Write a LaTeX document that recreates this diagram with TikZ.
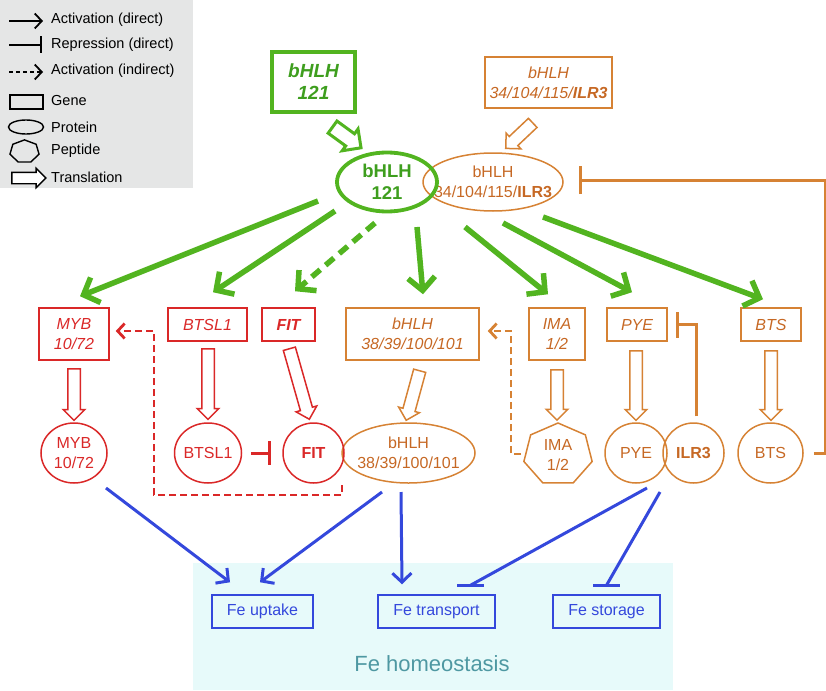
\documentclass[tikz,border=0pt]{standalone}
\usepackage{fontspec}
\setmainfont{Liberation Sans}
\usetikzlibrary{arrows.meta,shapes.geometric,shapes.arrows,calc}
\definecolor{cgreen}{RGB}{82,180,32}
\definecolor{cgreentext}{RGB}{62,158,30}
\definecolor{corange}{RGB}{214,130,52}
\definecolor{corangetext}{RGB}{198,104,36}
\definecolor{cred}{RGB}{218,40,40}
\definecolor{cblue}{RGB}{52,72,220}
\definecolor{cteal}{RGB}{78,152,162}
\definecolor{ccyan}{RGB}{231,250,250}
\definecolor{cgray}{RGB}{229,230,230}
\newcommand\blockarr[4]{\path let \p1=#2, \p2=#3, \n1={atan2((\y2)-(\y1),(\x2)-(\x1))}, \n2={veclen((\x2)-(\x1),(\y2)-(\y1))} in node[transarrow,#1,minimum height=\n2,rotate=\n1] (#4) at ($(\p1)!0.5!(\p2)$) {};}
\begin{document}
\begin{tikzpicture}[x=1pt,y=-1pt,
  gene/.style={draw, rectangle, inner sep=0pt, align=center, font=\fontsize{16}{20}\selectfont\itshape, line width=1.5pt},
  prot/.style={draw, ellipse, inner xsep=-15pt, inner ysep=-6pt, align=center, font=\fontsize{16}{20}\selectfont, line width=1.5pt},
  transarrow/.style={single arrow, draw, fill=white, inner xsep=0pt, inner ysep=5.5pt, single arrow head extend=4.5pt, line width=1.5pt},
  act/.style={line width=5.5pt, cgreen, -{Straight Barb[length=13pt,width=27pt]}},
  bact/.style={line width=3pt, cblue, -{Straight Barb[length=9pt,width=19pt]}},
  brep/.style={line width=3pt, cblue},
  dashact/.style={line width=2.8pt, dash pattern=on 7pt off 4pt, -{Straight Barb[length=7pt,width=15pt]}},
  legtext/.style={anchor=west, inner sep=0pt, font=\fontsize{14.5}{16}\selectfont},
  febox/.style={draw=cblue, line width=1.5pt, text=cblue, minimum height=33, inner sep=0pt, font=\fontsize{16}{20}\selectfont}
]
\useasboundingbox (0,0) rectangle (826,690);
% ---------- legend ----------
\fill[cgray] (0,0) rectangle (193,188);
\coordinate (l1a) at (9,21); \coordinate (l1b) at (43,21);
\draw[line width=1.8pt, -{Straight Barb[length=7pt,width=15pt]}] (l1a) -- (l1b);
\node[legtext] (lt1) at (51,20) {Activation (direct)};
\coordinate (l2a) at (9,45); \coordinate (l2b) at (42,45);
\draw[line width=1.8pt, -{Bar[width=17pt]}] (l2a) -- (l2b);
\node[legtext] (lt2) at (51,45) {Repression (direct)};
\coordinate (l3a) at (9,72); \coordinate (l3b) at (43,72);
\draw[line width=1.8pt, dash pattern=on 4pt off 3pt, -{Straight Barb[length=7pt,width=15pt]}] (l3a) -- (l3b);
\node[legtext] (lt3) at (51,71) {Activation (indirect)};
\node[draw, line width=1.4pt, minimum width=33, minimum height=14, inner sep=0pt] (lgene) at (26.5,102) {};
\node[legtext] (lt4) at (51,101) {Gene};
\node[draw, ellipse, line width=1.4pt, minimum width=35, minimum height=14, inner sep=0pt] (lprot) at (26,127) {};
\node[legtext] (lt5) at (51,127) {Protein};
\draw[line width=1.4pt] plot[samples at={0,1,2,3,4,5,6},variable=\k] ({24.5+14.9*cos(-90+\k*360/7)},{151.5+11.6*sin(-90+\k*360/7)}) -- cycle;
\node[legtext] (lt6) at (51,151) {Peptide};
\coordinate (l7a) at (9,178); \coordinate (l7b) at (43,178);
\blockarr{line width=1.4pt, inner ysep=5pt, single arrow head extend=4pt}{(l7a)}{(l7b)}{ltrans}
\node[legtext] (lt7) at (51,177) {Translation};
% ---------- Fe homeostasis ----------
\fill[ccyan] (193,563) rectangle (673,690);
\node[text=cteal, font=\fontsize{22}{24}\selectfont] (feh) at (432,664) {Fe homeostasis};
\node[febox, minimum width=101] (fUp) at (262.5,611.5) {Fe uptake};
\node[febox, minimum width=117] (fTr) at (436.5,611.5) {Fe transport};
\node[febox, minimum width=107] (fSt) at (606.5,611.5) {Fe storage};
% ---------- top ----------
\node[gene, draw=cgreen, line width=3.8pt, text=cgreentext, minimum width=83, minimum height=60, font=\fontsize{19}{22}\selectfont\bfseries\itshape] (g121) at (313.5,82) {bHLH\\121};
\node[gene, draw=corange, text=corangetext, minimum width=127, minimum height=51] (g34) at (548.5,82.5) {bHLH\\34/104/115/\textbf{ILR3}};
\node[prot, draw=corange, text=corangetext, minimum width=140, minimum height=58] (p34) at (493,182) {bHLH\\34/104/115/\textbf{ILR3}};
\node[prot, draw=cgreen, line width=3.8pt, text=cgreentext, minimum width=100, minimum height=59, font=\fontsize{18.5}{22}\selectfont\bfseries] (p121) at (387,182) {bHLH\\121};
\blockarr{draw=cgreen, line width=3pt, inner ysep=6pt, single arrow head extend=6pt}{($(g121.south)+(16,11)$)}{($(p121.north)+(-29,-5)$)}{t121}
\blockarr{draw=corange}{($(g34.south)+(-13.5,12)$)}{($(p34.north)+(15,-6)$)}{t34}
% ---------- genes ----------
\node[gene, draw=cred, text=cred, minimum width=70, minimum height=52] (gMYB) at (74,334) {MYB\\10/72};
\node[gene, draw=cred, text=cred, minimum width=79, minimum height=33] (gBTSL1) at (207.5,324.5) {BTSL1};
\node[gene, draw=cred, text=cred, minimum width=53, minimum height=33, font=\fontsize{16}{20}\selectfont\bfseries\itshape] (gFIT) at (288.5,324.5) {FIT};
\node[gene, draw=corange, text=corangetext, minimum width=133, minimum height=52] (gB38) at (412.5,334) {bHLH\\38/39/100/101};
\node[gene, draw=corange, text=corangetext, minimum width=56, minimum height=52] (gIMA) at (557,334) {IMA\\1/2};
\node[gene, draw=corange, text=corangetext, minimum width=60, minimum height=33] (gPYE) at (637,324.5) {PYE};
\node[gene, draw=corange, text=corangetext, minimum width=60, minimum height=33] (gBTS) at (771,324.5) {BTS};
% ---------- proteins ----------
\node[prot, draw=cred, text=cred, minimum width=66, minimum height=60] (pMYB) at (74,453) {MYB\\10/72};
\node[prot, draw=cred, text=cred, minimum width=67, minimum height=60] (pBTSL1) at (208,453) {BTSL1};
\node[prot, draw=corange, text=corangetext, minimum width=133, minimum height=60] (pB38) at (408.5,453) {bHLH\\38/39/100/101};
\node[prot, draw=cred, text=cred, minimum width=61, minimum height=60, font=\fontsize{16}{20}\selectfont\bfseries] (pFIT) at (313.5,453) {FIT};
\draw[corange, line width=1.5pt] plot[samples at={0,1,2,3,4,5,6},variable=\k] ({558+35*cos(-90+\k*360/7)},{454.5+31.5*sin(-90+\k*360/7)}) -- cycle;
\node[align=center, text=corangetext, font=\fontsize{16}{20}\selectfont, inner sep=0pt] (pIMA) at (558,455) {IMA\\1/2};
\node[prot, draw=corange, text=corangetext, minimum width=62, minimum height=60] (pPYE) at (636,453) {PYE};
\node[prot, draw=corange, text=corangetext, minimum width=61, minimum height=60, font=\fontsize{16}{20}\selectfont\bfseries] (pILR3) at (693.5,453) {ILR3};
\node[prot, draw=corange, text=corangetext, minimum width=65, minimum height=60] (pBTS) at (770.5,453) {BTS};
% ---------- translation arrows ----------
\blockarr{draw=cred}{($(gMYB.south)+(0,5)$)}{($(pMYB.north)+(0,-5)$)}{tMYB}
\blockarr{draw=cred}{($(gBTSL1.south)+(0.5,4)$)}{($(pBTSL1.north)+(0,-6)$)}{tBTSL1}
\blockarr{draw=cred}{($(gFIT.south)+(0,4)$)}{($(pFIT.north)+(-5,-6)$)}{tFIT}
\blockarr{draw=corange}{($(gB38.south)+(8,7)$)}{($(pB38.north)+(-1.5,-5)$)}{tB38}
\blockarr{draw=corange}{($(gIMA.south)+(0,6)$)}{($(pIMA)+(-1,-38)$)}{tIMA}
\blockarr{draw=corange}{($(gPYE.south)+(-1,6)$)}{($(pPYE.north)+(0,-5)$)}{tPYE}
\blockarr{draw=corange}{($(gBTS.south)+(0,6)$)}{($(pBTS.north)+(0.5,-5)$)}{tBTS}
% ---------- green activation ----------
\draw[act] ($(p121)+(-69,19)$) -- ($(gMYB.north)+(6,-11)$);
\draw[act] ($(p121)+(-52,29)$) -- ($(gBTSL1.north)+(5.5,-15)$);
\draw[act, dash pattern=on 11pt off 7pt] ($(p121)+(-12,41)$) -- ($(gFIT.north)+(6.5,-16)$);
\draw[act] ($(p121)+(30,45)$) -- ($(gB38.north)+(10.5,-13)$);
\draw[act] ($(p34)+(-28,45)$) -- ($(gIMA.north)+(-9,-13)$);
\draw[act] ($(p34)+(10,41)$) -- ($(gPYE.north)+(-5,-15)$);
\draw[act] ($(p34)+(50,35)$) -- ($(gBTS.north)+(-8,-8)$);
% ---------- dashed indirect ----------
\draw[dashact, cred] ($(pFIT)+(28.5,32)$) -- ++(0,10) -| (154,331) -- ($(gMYB.east)+(6,-3)$);
\draw[dashact, corange] ($(pIMA)+(-37,-1)$) -- ++(-10,0) |- ($(gB38.east)+(8,-3)$);
% ---------- repression ----------
\draw[cred, line width=3pt, -{Bar[width=24pt]}] ($(pBTSL1.east)+(8.5,0)$) -- ($(pFIT.west)+(-11,0)$);
\draw[corange, line width=3pt, -{Bar[width=26pt]}] ($(pILR3.north)+(2.5,-6)$) |- ($(gPYE.east)+(8,0)$);
\draw[corange, line width=3pt, -{Bar[width=28pt]}] ($(pBTS.east)+(10,0)$) -- ++(12,0) |- ($(p34.east)+(15,-2)$);
% ---------- blue ----------
\draw[bact] ($(pMYB)+(32,35)$) -- ($(fUp.north)+(-32.5,-12)$);
\draw[bact] ($(pB38)+(-26.5,39)$) -- ($(fUp.north)+(-2.5,-12)$);
\draw[bact] ($(pB38)+(-7.5,39)$) -- ($(fTr.north)+(-34.5,-10)$);
\coordinate (r1) at ($(fTr.north)+(34,-9)$);
\draw[brep] ($(pPYE)+(11,35)$) -- (r1);
\draw[brep] ($(r1)+(-13.5,0)$) -- ($(r1)+(13.5,0)$);
\coordinate (r2) at ($(fSt.north)+(0,-9)$);
\draw[brep] ($(pILR3)+(-33.5,39)$) -- (r2);
\draw[brep] ($(r2)+(-13.5,0)$) -- ($(r2)+(13.5,0)$);
\end{tikzpicture}
\end{document}
